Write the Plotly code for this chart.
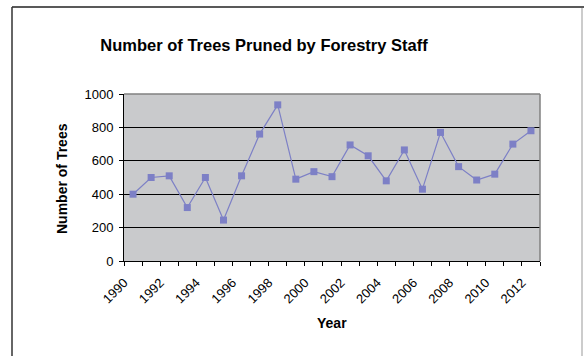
import plotly.graph_objects as go

# Annual count of trees pruned by forestry staff
years = list(range(1990, 2013))
trees_pruned = [400, 500, 510, 320, 500, 245, 510, 760, 935, 490, 535, 505,
                695, 630, 480, 665, 430, 770, 565, 485, 520, 700, 780]

label_years = [y for y in years if y % 2 == 0]
label_text = [str(y) for y in label_years]
y_ticks = [0, 200, 400, 600, 800, 1000]

W, H = 584, 356
M_L, M_R, M_T, M_B = 124, 44, 94, 95
PW, PH = W - M_L - M_R, H - M_T - M_B

def px_x(px):
    return (px - M_L) / PW

def px_y(py):
    return (H - M_B - py) / PH

line_color = "#7D80C6"
font_family = "Liberation Sans, Arial, sans-serif"

fig = go.Figure()
fig.add_trace(go.Scatter(
    x=years, y=trees_pruned,
    mode="lines+markers",
    line=dict(color=line_color, width=1.2),
    marker=dict(symbol="square", size=7, color=line_color),
    showlegend=False,
    cliponaxis=False,
))

fig.update_layout(
    width=W, height=H,
    margin=dict(l=M_L, r=M_R, t=M_T, b=M_B),
    paper_bgcolor="white",
    plot_bgcolor="#C9CACC",
    font=dict(family=font_family, size=13, color="black"),
    title=dict(
        text="<b>Number of Trees Pruned by Forestry Staff</b>",
        font=dict(size=16.5, family=font_family, color="black"),
        x=264 / W, xanchor="center", xref="container",
        y=1 - 45 / H, yanchor="middle", yref="container",
    ),
    xaxis=dict(
        range=[1989.5, 2012.5],
        tickmode="array", tickvals=label_years, ticktext=label_text,
        tickangle=-45, ticks="", ticklen=0,
        showgrid=False, zeroline=False,
        showline=True, linecolor="black", linewidth=1,
        tickfont=dict(size=13),
        ticklabelshift=-9,
        ticklabelstandoff=8,
        minor=dict(tick0=1989.5, dtick=1, ticks="outside", ticklen=4,
                   tickcolor="black", tickwidth=1, showgrid=False),
    ),
    yaxis=dict(
        range=[0, 1000],
        tickmode="array", tickvals=y_ticks,
        ticks="outside", ticklen=4, tickcolor="black",
        showgrid=True, gridcolor="black", gridwidth=1,
        zeroline=False,
        showline=True, linecolor="black", linewidth=1,
        tickfont=dict(size=13),
        ticklabelstandoff=3,
    ),
    annotations=[
        dict(text="<b>Number of Trees</b>", textangle=-90,
             x=px_x(62), y=px_y(179), xref="paper", yref="paper",
             xanchor="center", yanchor="middle", showarrow=False,
             font=dict(size=14)),
        dict(text="<b>Year</b>",
             x=px_x(332), y=px_y(323), xref="paper", yref="paper",
             xanchor="center", yanchor="middle", showarrow=False,
             font=dict(size=14)),
    ],
    shapes=[
        # plot-area border (top and right)
        dict(type="line", xref="paper", yref="paper", x0=0, x1=1, y0=1, y1=1,
             line=dict(color="#808080", width=1.5), layer="above"),
        dict(type="line", xref="paper", yref="paper", x0=1, x1=1, y0=0, y1=1,
             line=dict(color="#808080", width=1.5), layer="above"),
        # chart frame
        dict(type="line", xref="paper", yref="paper",
             x0=px_x(12), x1=px_x(584), y0=px_y(7), y1=px_y(7),
             line=dict(color="#222222", width=1.5)),
        dict(type="line", xref="paper", yref="paper",
             x0=px_x(12), x1=px_x(12), y0=px_y(7), y1=px_y(360),
             line=dict(color="#333333", width=1.5)),
        dict(type="line", xref="paper", yref="paper",
             x0=px_x(582), x1=px_x(582), y0=px_y(8), y1=px_y(360),
             line=dict(color="#999999", width=1)),
    ],
)

fig.write_html("out.html")
